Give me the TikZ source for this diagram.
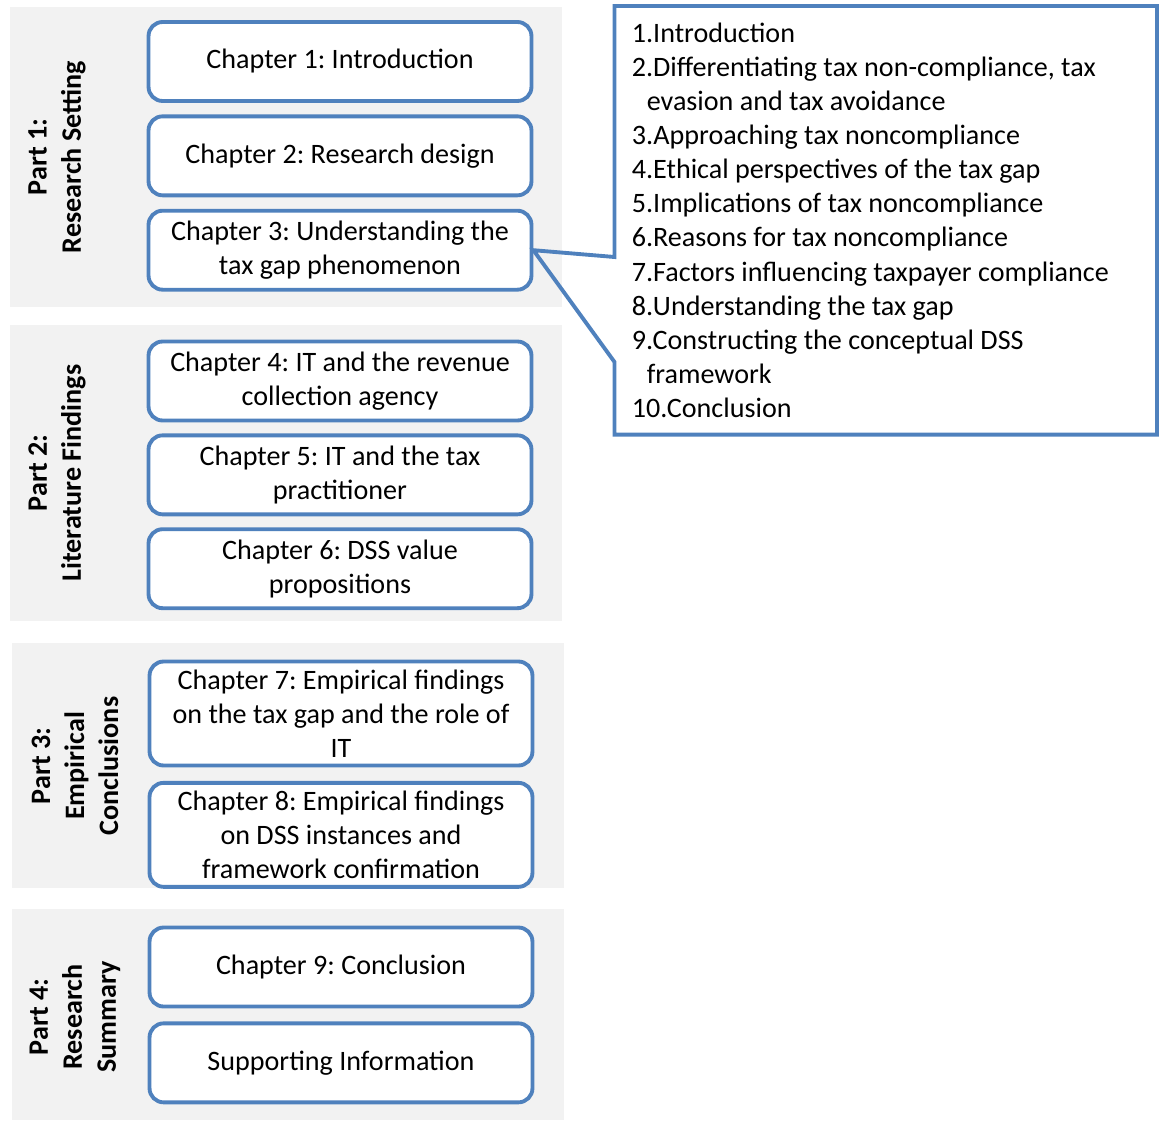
\documentclass[tikz,border=0pt]{standalone}
\usepackage{fontspec}
\setmainfont{Carlito}
\usetikzlibrary{positioning,calc}
\definecolor{boxblue}{RGB}{79,129,189}
\definecolor{band}{RGB}{242,242,242}
\frenchspacing
\tikzset{
    chap/.style={draw=boxblue,line width=2.2pt,rounded corners=8pt,fill=white,minimum width=7.66cm,minimum height=1.58cm,align=center,inner sep=2pt,font=\fontsize{16}{19.4}\selectfont},
    part/.style={rotate=90,align=center,font=\fontsize{16}{19.4}\selectfont\bfseries},
    callout/.style={draw=boxblue,line width=2.2pt}
}
\begin{document}
\begin{tikzpicture}[x=0.02cm,y=-0.02cm]
    \useasboundingbox (0,0) rectangle (1159,1122);
    \fill[band] (10,7) rectangle (562,307);
    \fill[band] (10,325) rectangle (562,621);
    \fill[band] (12,643) rectangle (564,888);
    \fill[band] (12,909) rectangle (564,1120);
    \node[part] (p1) at (57,157){Part 1:\\Research Setting};
    \node[part] (p2) at (57,473){Part 2:\\Literature Findings};
    \node[part] (p3) at (75,766){Part 3:\\Empirical\\Conclusions};
    \node[part] (p4) at (75,1017){Part 4:\\Research\\Summary};
    \node[chap] (ch1) at (340,61.5){Chapter 1: Introduction};
    \node[chap,below=0.23cm of ch1] (ch2){Chapter 2: Research design};
    \node[chap,below=0.23cm of ch2] (ch3){Chapter 3: Understanding the\\tax gap phenomenon};
    \node[chap] (ch4) at (340,381){Chapter 4: IT and the revenue\\collection agency};
    \node[chap,below=0.22cm of ch4] (ch5){Chapter 5: IT and the tax\\practitioner};
    \node[chap,below=0.22cm of ch5] (ch6){Chapter 6: DSS value\\propositions};
    \node[chap,minimum height=2.08cm] (ch7) at (341,713.5){Chapter 7: Empirical findings\\on the tax gap and the role of\\IT};
    \node[chap,minimum height=2.08cm,below=0.27cm of ch7] (ch8){Chapter 8: Empirical findings\\on DSS instances and\\framework confirmation};
    \node[chap] (ch9) at (341,967){Chapter 9: Conclusion};
    \node[chap,below=0.26cm of ch9] (supp){Supporting Information};
    \node[anchor=north west,minimum width=10.84cm,minimum height=8.56cm,text width=10.16cm,inner xsep=0.34cm,align=flush left,font=\fontsize{16}{19.4}\selectfont] (list) at (614.5,6){1.Introduction\\
        2.Differentiating tax non-compliance, tax\\
        \hspace*{0.3cm}evasion and tax avoidance\\
        3.Approaching tax noncompliance\\
        4.Ethical perspectives of the tax gap\\
        5.Implications of tax noncompliance\\
        6.Reasons for tax noncompliance\\
        7.Factors influencing taxpayer compliance\\
        8.Understanding the tax gap\\
        9.Constructing the conceptual DSS\\
        \hspace*{0.3cm}framework\\
        10.Conclusion};
    \draw[callout] (list.north west) -- (list.north east) -- (list.south east) -- (list.south west) -- ($(list.north west)+(0,356)$) -- (ch3.east) -- ($(list.north west)+(0,251)$) -- cycle;
\end{tikzpicture}
\end{document}
